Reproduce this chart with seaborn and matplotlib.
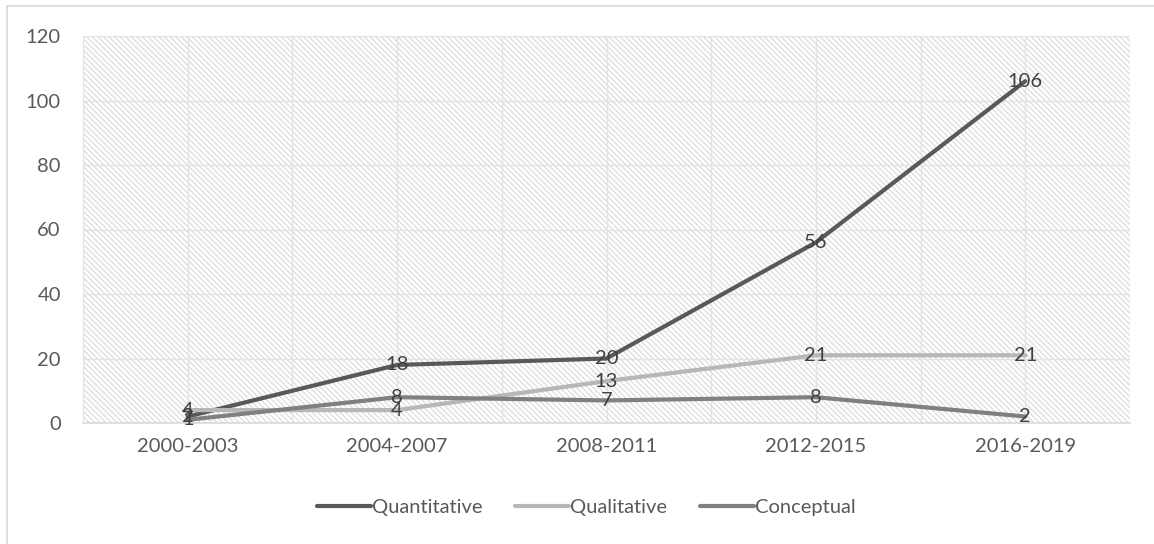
import matplotlib
matplotlib.use("Agg")
import matplotlib.pyplot as plt
from matplotlib.patches import Rectangle
from matplotlib.lines import Line2D
from matplotlib.ticker import MultipleLocator
import numpy as np
import pandas as pd
import seaborn as sns

periods = ["2000-2003", "2004-2007", "2008-2011", "2012-2015", "2016-2019"]
quantitative = [2, 18, 20, 56, 106]
qualitative = [4, 4, 13, 21, 21]
conceptual = [1, 8, 7, 8, 2]
series_names = ["Quantitative", "Qualitative", "Conceptual"]
series_colors = ["#595959", "#b7b7b7", "#808080"]

df = pd.DataFrame({
    "idx": list(range(len(periods))) * 3,
    "value": quantitative + qualitative + conceptual,
    "series": [s for s in series_names for _ in periods],
})

sns.set_theme(style="white")
plt.rcParams["font.family"] = ["Lato", "DejaVu Sans"]
plt.rcParams["hatch.linewidth"] = 0.9

fig = plt.figure(figsize=(11.54, 5.44), dpi=100)
ax = fig.add_axes([83 / 1154, 1 - 423 / 544, (1130 - 83) / 1154, (423 - 36) / 544])

# light diagonal hatch over the plotting area
ax.add_patch(Rectangle((0, 0), 1, 1, transform=ax.transAxes, facecolor="white",
                       edgecolor="#dcdcdc", hatch="\\" * 6, lw=0, zorder=0))

palette = dict(zip(series_names, series_colors))
sns.lineplot(data=df, x="idx", y="value", hue="series", hue_order=series_names,
             palette=palette, lw=3.0, ax=ax, legend=False, zorder=3,
             solid_capstyle="round")

text_color = "#595959"
for vals in (quantitative, qualitative, conceptual):
    for i, v in enumerate(vals):
        ax.text(i, v, str(v), ha="center", va="center", fontsize=14.5,
                color="#404040", zorder=5)

ax.set_xlim(-0.5, len(periods) - 0.5)
ax.set_ylim(0, 120)
ax.yaxis.set_major_locator(MultipleLocator(20))
ax.set_xticks(range(len(periods)))
ax.set_xticklabels(periods)
ax.set_xticks(np.arange(-0.5, len(periods), 1.0), minor=True)
ax.grid(True, which="both", color="#e3e3e3", lw=1.0)
ax.set_axisbelow(True)
ax.set_xlabel("")
ax.set_ylabel("")
ax.tick_params(axis="both", which="both", length=0, labelsize=14.5,
               labelcolor=text_color)
ax.tick_params(axis="y", pad=16)
ax.tick_params(axis="x", pad=11)
for side in ["top", "right", "left"]:
    ax.spines[side].set_visible(False)
ax.spines["bottom"].set_color("#d9d9d9")
ax.spines["bottom"].set_linewidth(1.2)

handles = [Line2D([0], [0], color=c, lw=3.0, solid_capstyle="round")
           for c in series_colors]
fig.legend(handles, series_names, loc="center", bbox_to_anchor=(0.508, 1 - 507 / 544),
           ncol=3, frameon=False, fontsize=14.5, handlelength=2.7,
           handletextpad=0.05, columnspacing=1.6, labelcolor=text_color)

# chart area outline
fig.add_artist(Line2D([7 / 1154, 7 / 1154], [0, 1 - 6 / 544], color="#d9d9d9",
                      lw=1.2, transform=fig.transFigure))
fig.add_artist(Line2D([7 / 1154, 1], [1 - 6 / 544, 1 - 6 / 544], color="#d9d9d9",
                      lw=1.2, transform=fig.transFigure))

fig.savefig("out.png", dpi=100, facecolor="white")
